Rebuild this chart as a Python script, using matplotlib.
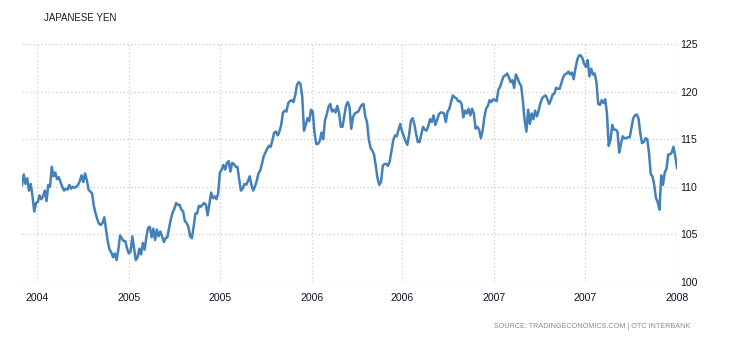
import matplotlib
matplotlib.use("Agg")
import matplotlib.pyplot as plt
import pandas as pd

# USD/JPY, one reading every 3.5 days from 2004-06-01
start_date = "2004-06-01"
yen = [
    110.2, 111.3, 110.3, 110.9, 109.6, 110.3, 109.0, 107.4, 108.3, 108.4,
    109.1, 108.7, 109.0, 109.6, 108.5, 110.2, 110.0, 112.1, 111.1, 111.5,
    110.8, 111.0, 110.5, 110.0, 109.6, 109.8, 109.7, 110.2, 109.8, 110.0,
    109.9, 110.0, 110.2, 110.6, 111.2, 110.5, 111.4, 110.7, 109.7, 109.5,
    109.3, 108.0, 107.2, 106.6, 106.1, 106.0, 106.2, 106.8, 105.5, 104.2,
    103.4, 103.1, 102.6, 103.0, 102.3, 103.4, 104.9, 104.6, 104.3, 104.3,
    103.5, 103.0, 103.2, 104.8, 103.5, 102.3, 102.6, 103.5, 102.9, 104.1,
    103.4, 104.7, 105.7, 105.8, 104.7, 105.6, 104.4, 105.5, 104.8, 105.3,
    104.8, 104.2, 104.6, 104.7, 105.7, 106.6, 107.3, 107.7, 108.3, 108.1,
    108.1, 107.6, 107.4, 106.4, 106.2, 105.8, 104.8, 104.6, 105.8, 107.2,
    107.2, 108.0, 107.9, 108.1, 108.3, 108.1, 107.0, 108.2, 109.4, 108.8,
    109.0, 108.7, 109.3, 111.5, 111.8, 112.3, 111.8, 112.5, 112.7, 111.6,
    112.5, 112.4, 112.1, 112.1, 110.8, 109.6, 109.8, 110.3, 110.2, 110.6,
    111.1, 110.2, 109.6, 110.0, 110.6, 111.4, 111.7, 112.4, 113.2, 113.6,
    114.0, 114.3, 114.2, 114.9, 115.7, 115.8, 115.4, 115.8, 116.5, 117.8,
    118.0, 117.9, 118.8, 119.0, 119.1, 118.9, 119.6, 120.7, 121.0, 120.8,
    119.5, 115.9, 116.5, 117.2, 116.9, 118.1, 117.9, 115.7, 114.5, 114.5,
    114.8, 115.7, 115.0, 117.0, 117.6, 118.4, 118.7, 117.9, 118.1, 117.8,
    118.5, 117.8, 116.3, 116.3, 117.4, 118.5, 118.9, 118.4, 116.1, 117.3,
    117.7, 117.8, 117.9, 118.3, 118.6, 118.7, 117.4, 116.8, 115.0, 114.1,
    113.8, 113.4, 112.2, 110.9, 110.2, 110.5, 112.2, 112.4, 112.4, 112.2,
    112.7, 113.8, 114.9, 115.4, 115.3, 116.0, 116.6, 115.8, 115.3, 114.8,
    114.4, 115.4, 116.9, 117.2, 116.6, 115.6, 114.7, 114.7, 115.5, 116.3,
    116.0, 115.9, 116.4, 117.1, 116.8, 117.5, 116.5, 117.0, 117.6, 117.8,
    117.8, 117.7, 116.8, 117.9, 118.2, 118.9, 119.6, 119.4, 119.3, 119.0,
    119.0, 118.7, 117.3, 118.0, 117.7, 118.2, 117.5, 118.2, 117.7, 116.1,
    116.3, 116.0, 115.1, 115.9, 117.3, 118.2, 118.5, 119.1, 118.9, 119.2,
    119.1, 119.0, 120.2, 120.5, 121.1, 121.6, 121.7, 121.9, 121.5, 121.0,
    121.2, 120.4, 121.8, 121.4, 120.9, 120.6, 119.0, 117.0, 115.8, 118.1,
    116.6, 117.7, 117.1, 118.0, 117.4, 118.0, 118.8, 119.3, 119.5, 119.6,
    119.2, 118.7, 119.1, 119.7, 119.8, 120.4, 120.3, 120.3, 120.9, 121.5,
    121.8, 121.9, 122.1, 121.8, 122.0, 121.3, 122.4, 123.3, 123.8, 123.8,
    123.5, 122.9, 122.6, 123.3, 121.6, 122.4, 121.8, 121.9, 121.0, 118.7,
    118.6, 119.1, 118.8, 119.2, 117.7, 114.3, 114.9, 116.5, 116.0, 116.0,
    115.8, 113.6, 114.5, 115.3, 115.1, 115.1, 115.2, 115.2, 116.2, 117.2,
    117.5, 117.6, 117.2, 115.7, 114.6, 114.7, 115.1, 115.0, 113.6, 111.3,
    111.1, 110.2, 108.8, 108.4, 107.6, 111.2, 110.2, 111.5, 111.9, 113.4,
    113.4, 113.6, 114.2, 113.2, 112.0,
]
dates = pd.date_range(start_date, periods=len(yen), freq="84h")

tick_dates = pd.to_datetime(["2004-07-01", "2005-01-01", "2005-07-01", "2006-01-01",
                             "2006-07-01", "2007-01-01", "2007-07-01", "2008-01-01"])
tick_labels = ["2004", "2005", "2005", "2006", "2006", "2007", "2007", "2008"]
y_ticks = [100, 105, 110, 115, 120, 125]

fig = plt.figure(figsize=(7.3, 3.4), dpi=100)
ax = fig.add_axes([22 / 730, 58 / 340, 655 / 730, 238 / 340])

ax.plot(dates, yen, color="#4381b8", lw=1.8, solid_joinstyle="round")

ax.set_xlim(dates[0], dates[-1])
ax.set_ylim(100, 125)
ax.set_xticks(tick_dates)
ax.set_xticklabels(tick_labels)
ax.set_yticks(y_ticks)
ax.yaxis.tick_right()

for s in ax.spines.values():
    s.set_visible(False)
ax.grid(True, color="#cccccc", linestyle=(0, (1, 2)), lw=0.9)
ax.set_axisbelow(True)
ax.tick_params(axis="both", length=0, labelsize=7.6, labelcolor="#14142a")
ax.tick_params(axis="x", pad=8)
ax.tick_params(axis="y", pad=2)
for lab in ax.get_xticklabels() + ax.get_yticklabels():
    lab.set_family("Liberation Sans")

fig.text(44 / 730, 1 - 18 / 340, "JAPANESE YEN", fontsize=7.0, color="#1a1a1a",
         family="Liberation Sans", va="center", ha="left")
fig.text(690 / 730, 1 - 327 / 340, "SOURCE: TRADINGECONOMICS.COM | OTC INTERBANK",
         fontsize=5.2, color="#8a8a8a", family="Liberation Sans",
         va="center", ha="right")

fig.savefig("out.png", dpi=100)
